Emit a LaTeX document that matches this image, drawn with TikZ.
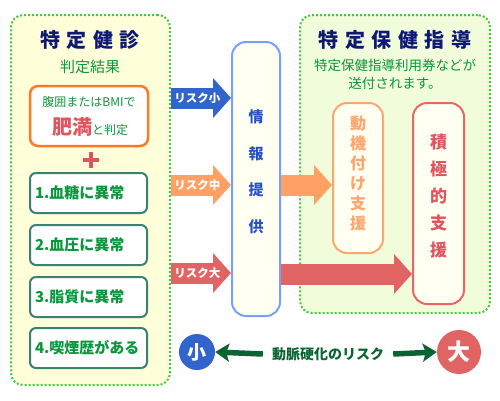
\documentclass[tikz,border=0pt]{standalone}
\usepackage{fontspec}
\setmainfont{Noto Sans CJK JP}
\usepackage{tikz}
\usetikzlibrary{arrows.meta,positioning,calc}
\definecolor{titlenavy}{RGB}{15,25,115}
\definecolor{textgreen}{RGB}{10,150,60}
\definecolor{dotgreen}{RGB}{70,200,60}
\definecolor{checkfill}{RGB}{255,255,218}
\definecolor{guidefill}{RGB}{240,252,218}
\definecolor{cream}{RGB}{255,255,242}
\definecolor{obeseorange}{RGB}{255,120,40}
\definecolor{condteal}{RGB}{55,130,115}
\definecolor{obesered}{RGB}{222,85,95}
\definecolor{riskblue}{RGB}{50,100,205}
\definecolor{riskorange}{RGB}{255,160,100}
\definecolor{riskred}{RGB}{225,100,100}
\definecolor{infoblue}{RGB}{120,160,255}
\definecolor{infotextblue}{RGB}{40,80,200}
\definecolor{mildorange}{RGB}{255,165,110}
\definecolor{activered}{RGB}{238,100,100}
\definecolor{arrowgreen}{RGB}{10,100,50}
\tikzset{
  % dotted outer panels
  panel/.style={draw=dotgreen, line width=2pt, dash pattern=on 2pt off 2pt,
    rounded corners=12pt, inner sep=0pt},
  % boxes inside the check-up panel
  obesebox/.style={draw=obeseorange, fill=white, line width=2.5pt,
    rounded corners=8pt, minimum width=118pt, minimum height=60pt},
  condbox/.style={draw=condteal, fill=white, line width=2pt, rounded corners=6pt,
    minimum height=40pt, text width=107pt, inner xsep=5pt, align=left,
    text=textgreen, font=\fontsize{15}{17}\selectfont\bfseries},
  % tall boxes with one letter per line
  tallbox/.style={line width=2pt, fill=cream, rounded corners=14pt, inner sep=0pt},
  % fat arrows that carry the risk level
  riskarrow/.style={line width=21pt, line cap=butt,
    -{Triangle[length=18pt,width=39pt]}},
  risktext/.style={text=white, font=\fontsize{11.5}{13}\selectfont\bfseries, inner sep=0pt},
  % small / large dots and the scale arrows under them
  riskdot/.style={circle, inner sep=0pt, text=white},
  scaleline/.style={arrowgreen, line width=5.5pt,
    -{Stealth[length=14pt,width=18pt,inset=3pt]}},
}
\newcommand{\tsp}{\hspace{6.5pt}}

\begin{document}
\begin{tikzpicture}[x=1pt, y=-1pt]
    \useasboundingbox (0,0) rectangle (500,400);
    % the two panels
    \node[panel, fill=checkfill, minimum width=159pt, minimum height=370pt] (kenshin) at (90.5,200) {};
    \node[panel, fill=guidefill, minimum width=190pt, minimum height=298pt] (hoken) at (395,164) {};
    \node[text=titlenavy, font=\fontsize{20}{22}\selectfont\bfseries] (kenshintitle) at (90,40) {特\tsp 定\tsp 健\tsp 診};
    \node[text=textgreen, font=\fontsize{15}{17}\selectfont] (result) at (90,67) {判定結果};
    \node[text=titlenavy, font=\fontsize{20}{22}\selectfont\bfseries] (hokentitle) at (395,40) {特\tsp 定\tsp 保\tsp 健\tsp 指\tsp 導};
    \node[text=textgreen, font=\fontsize{13.5}{18}\selectfont, align=center] (ticket) at (395,74)
      {特定保健指導利用券などが\\送付されます。};
    % check-up results
    \node[obesebox] (obese) at (89,116) {};
    \node[text=textgreen, font=\fontsize{12}{14}\selectfont] (obesetop) at (89,102) {腹囲またはBMIで};
    \node[font=\fontsize{12}{14}\selectfont, inner sep=0pt] (obesebottom) at (90,127)
      {\textcolor{obesered}{\fontsize{20}{22}\selectfont\bfseries 肥満}\textcolor{textgreen}{と判定}};
    \draw[obesered, line width=4pt] (83,160) -- (99,160) (91,152) -- (91,168);
    \node[condbox] (cond1) at (88.5,193) {1.血糖に異常};
    \node[condbox] (cond2) at (88.5,245) {2.血圧に異常};
    \node[condbox] (cond3) at (88.5,297) {3.脂質に異常};
    \node[condbox] (cond4) at (88.5,348) {4.喫煙歴がある};
    % information handed on
    \node[tallbox, draw=infoblue, minimum width=48pt, minimum height=274pt] (info) at (256,179) {};
    \node[text=infotextblue, align=center, font=\fontsize{15}{36.5}\selectfont\bfseries] (infolabel)
      at (info.center |- 0,172) {情\\報\\提\\供};
    % guidance levels
    \node[tallbox, draw=mildorange, minimum width=50pt, minimum height=150pt] (douki) at (358,178) {};
    \node[text=mildorange, align=center, font=\fontsize{16}{20}\selectfont\bfseries] (doukilabel)
      at (douki.center |- 0,173) {動\\機\\付\\け\\支\\援};
    \node[tallbox, draw=activered, minimum width=51pt, minimum height=201pt] (sekkyoku) at (438.5,203.5) {};
    \node[text=obesered, align=center, font=\fontsize{17}{27}\selectfont\bfseries] (sekkyokulabel)
      at (sekkyoku.center |- 0,196) {積\\極\\的\\支\\援};
    % risk arrows
    \draw[riskarrow, riskblue] (kenshin.east |- 0,98) -- node[risktext, pos=0.44] {リスク小} (info.west |- 0,98);
    \draw[riskarrow, riskorange] (kenshin.east |- 0,185) -- node[risktext, pos=0.44] {リスク中} (info.west |- 0,185);
    \draw[riskarrow, riskred] (kenshin.east |- 0,273) -- node[risktext, pos=0.44] {リスク大} (info.west |- 0,273);
    \draw[riskarrow, riskorange] (info.east |- 0,185) -- (douki.west |- 0,185);
    \draw[riskarrow, riskred] (info.east |- 0,274) -- (sekkyoku.west |- 0,274);
    % arteriosclerosis scale
    \node[riskdot, fill=riskblue, minimum size=36pt, font=\fontsize{19}{21}\selectfont\bfseries] (small) at (197,352) {小};
    \node[riskdot, fill=riskred, minimum size=44pt, font=\fontsize{23}{25}\selectfont\bfseries] (large) at (459,352) {大};
    \node[text=arrowgreen, inner xsep=9pt, font=\fontsize{14}{16}\selectfont\bfseries] (riskword) at (328,354) {動脈硬化のリスク};
    \draw[scaleline] (riskword.west) -- (small.east);
    \draw[scaleline] (riskword.east) -- (large.west);
  \end{tikzpicture}
\end{document}
